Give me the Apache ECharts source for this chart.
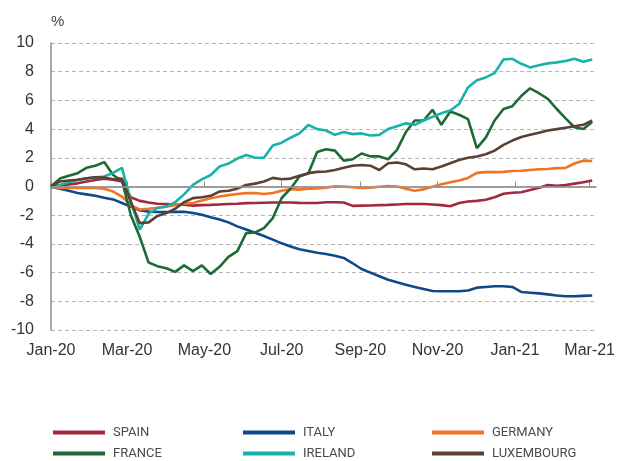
<!DOCTYPE html>
<html>
<head>
<meta charset="utf-8">
<script src="https://cdn.jsdelivr.net/npm/echarts@6/dist/echarts.min.js"></script>
<style>
  html, body { margin: 0; padding: 0; background: #fff; }
  #chart { width: 619px; height: 461px; }
</style>
</head>
<body>
<div id="chart"></div>
<script>
// weekly observations
var dates = [
  '2020-01-01','2020-01-08','2020-01-15','2020-01-22','2020-01-29','2020-02-05','2020-02-12','2020-02-19',
  '2020-02-26','2020-03-04','2020-03-11','2020-03-18','2020-03-25','2020-04-01','2020-04-08','2020-04-15',
  '2020-04-22','2020-04-29','2020-05-06','2020-05-13','2020-05-20','2020-05-27','2020-06-03','2020-06-10',
  '2020-06-17','2020-06-24','2020-07-01','2020-07-08','2020-07-15','2020-07-22','2020-07-29','2020-08-05',
  '2020-08-12','2020-08-19','2020-08-26','2020-09-02','2020-09-09','2020-09-16','2020-09-23','2020-09-30',
  '2020-10-07','2020-10-14','2020-10-21','2020-10-28','2020-11-04','2020-11-11','2020-11-18','2020-11-25',
  '2020-12-02','2020-12-09','2020-12-16','2020-12-23','2020-12-30','2021-01-06','2021-01-13','2021-01-20',
  '2021-01-27','2021-02-03','2021-02-10','2021-02-17','2021-02-24','2021-03-03'
];

var spain = [
  0, 0.08, 0.15, 0.22, 0.35, 0.45, 0.55, 0.47, 0.35, -0.75, -1.0, -1.12, -1.2, -1.22, -1.25, -1.27,
  -1.33, -1.3, -1.28, -1.25, -1.22, -1.2, -1.16, -1.15, -1.13, -1.12, -1.11, -1.12, -1.14, -1.15, -1.15, -1.1,
  -1.1, -1.12, -1.35, -1.33, -1.32, -1.3, -1.28, -1.25, -1.22, -1.22, -1.22, -1.25, -1.3, -1.38, -1.15, -1.05,
  -1.0, -0.92, -0.75, -0.5, -0.44, -0.4, -0.25, -0.08, 0.1, 0.05, 0.1, 0.2, 0.3, 0.42
];
var italy = [
  0, -0.15, -0.3, -0.45, -0.55, -0.65, -0.78, -0.9, -1.15, -1.4, -1.65, -1.75, -1.78, -1.78, -1.77, -1.76,
  -1.85, -1.97, -2.15, -2.3, -2.5, -2.78, -3.0, -3.22, -3.45, -3.7, -3.96, -4.18, -4.37, -4.5, -4.62, -4.7,
  -4.82, -4.98, -5.35, -5.75, -6.0, -6.25, -6.5, -6.68, -6.85, -7.0, -7.15, -7.28, -7.3, -7.3, -7.3, -7.25,
  -7.05, -7.0, -6.95, -6.95, -7.0, -7.35, -7.4, -7.45, -7.52, -7.6, -7.65, -7.65, -7.62, -7.6
];
var germany = [
  0, -0.1, -0.1, -0.1, -0.1, -0.1, -0.15, -0.35, -0.7, -1.3, -1.6, -1.55, -1.48, -1.4, -1.3, -1.2,
  -1.15, -0.98, -0.82, -0.7, -0.6, -0.52, -0.46, -0.45, -0.52, -0.45, -0.3, -0.18, -0.22, -0.15, -0.14, -0.08,
  0.02, 0.0, -0.05, -0.1, -0.08, -0.02, 0.03, 0.0, -0.15, -0.3, -0.2, -0.02, 0.15, 0.3, 0.42, 0.6,
  0.95, 1.0, 1.0, 1.02, 1.08, 1.1, 1.15, 1.2, 1.22, 1.28, 1.3, 1.6, 1.8, 1.78
];
var france = [
  0, 0.55, 0.75, 0.93, 1.3, 1.45, 1.7, 0.8, 0.4, -2.0, -3.5, -5.3, -5.55, -5.7, -5.95, -5.5,
  -5.9, -5.5, -6.1, -5.6, -4.9, -4.5, -3.25, -3.2, -2.9, -2.2, -0.8, -0.15, 0.7, 0.9, 2.4, 2.6,
  2.5, 1.8, 1.9, 2.3, 2.1, 2.1, 1.9, 2.55, 3.8, 4.6, 4.6, 5.35, 4.3, 5.22, 5.0, 4.7,
  2.67, 3.4, 4.6, 5.4, 5.6, 6.3, 6.84, 6.5, 6.1, 5.4, 4.75, 4.13, 4.0, 4.5
];
var ireland = [
  -0.1, 0.1, 0.3, 0.45, 0.55, 0.65, 0.7, 0.95, 1.3, -1.0, -3.0, -1.9, -1.5, -1.4, -1.1, -0.55,
  0.12, 0.5, 0.8, 1.39, 1.6, 1.95, 2.2, 2.0, 2.0, 2.85, 3.05, 3.4, 3.7, 4.29, 4.0, 3.9,
  3.6, 3.8, 3.65, 3.7, 3.55, 3.6, 4.0, 4.2, 4.4, 4.3, 4.6, 4.85, 5.1, 5.3, 5.75, 6.9,
  7.4, 7.6, 7.9, 8.85, 8.9, 8.55, 8.3, 8.45, 8.58, 8.65, 8.75, 8.9, 8.7, 8.85
];
var luxembourg = [
  0, 0.35, 0.42, 0.47, 0.58, 0.64, 0.62, 0.5, 0.55, -1.1, -2.55, -2.5, -2.05, -1.85, -1.55, -1.1,
  -0.81, -0.75, -0.65, -0.35, -0.3, -0.15, 0.1, 0.2, 0.35, 0.6, 0.5, 0.55, 0.75, 0.93, 1.02, 1.05,
  1.15, 1.3, 1.45, 1.5, 1.45, 1.15, 1.62, 1.67, 1.55, 1.2, 1.25, 1.2, 1.4, 1.62, 1.85, 2.0,
  2.09, 2.25, 2.5, 2.9, 3.2, 3.45, 3.6, 3.75, 3.9, 4.0, 4.1, 4.2, 4.3, 4.6
];

var tickDates = ['2020-01-01','2020-03-01','2020-05-01','2020-07-01','2020-09-01','2020-11-01','2021-01-01','2021-03-01'];
var monthNames = ['Jan','Feb','Mar','Apr','May','Jun','Jul','Aug','Sep','Oct','Nov','Dec'];

function toTime(s) {
  var p = s.split('-');
  return +new Date(+p[0], +p[1] - 1, +p[2]);
}
function pairs(vals) {
  return vals.map(function (v, i) { return [toTime(dates[i]), v]; });
}

var colors = {
  SPAIN: '#a2283f',
  ITALY: '#0d4a88',
  GERMANY: '#f27321',
  FRANCE: '#1b6b36',
  IRELAND: '#17b3a8',
  LUXEMBOURG: '#5b4134'
};

// one legend per entry so the 3 x 2 layout stays fixed
function makeLegend(name, left, top) {
  return {
    left: left,
    top: top,
    padding: 0,
    itemWidth: 52,
    itemHeight: 4,
    icon: 'rect',
    selectedMode: false,
    textStyle: {
      fontFamily: 'Roboto, sans-serif',
      fontSize: 13,
      color: '#4a4a4a',
      padding: [0, 0, 0, 3]
    },
    data: [name]
  };
}

function makeSeries(name, vals, extra) {
  var s = {
    name: name,
    type: 'line',
    symbol: 'none',
    data: pairs(vals),
    lineStyle: { width: 2.6, color: colors[name] },
    itemStyle: { color: colors[name] }
  };
  if (extra) Object.assign(s, extra);
  return s;
}

var chart = echarts.init(document.getElementById('chart'));
var tickTimes = tickDates.map(toTime);

var option = {
  animation: false,
  textStyle: { fontFamily: "'Liberation Sans', Arial, sans-serif" },
  grid: { left: 51, right: 23, top: 43, bottom: 131, containLabel: false },
  legend: [
    makeLegend('SPAIN', 53, 426),
    makeLegend('ITALY', 243, 426),
    makeLegend('GERMANY', 432, 426),
    makeLegend('FRANCE', 53, 447),
    makeLegend('IRELAND', 243, 447),
    makeLegend('LUXEMBOURG', 432, 447)
  ],
  xAxis: {
    type: 'value',
    min: toTime('2020-01-01'),
    max: toTime('2021-03-06'),
    axisLine: { lineStyle: { color: '#8c8c8c', width: 1.5 } },
    axisTick: { show: true, inside: true, length: 5, customValues: tickTimes, lineStyle: { color: '#8c8c8c' } },
    axisLabel: {
      customValues: tickTimes,
      margin: 13,
      fontSize: 16,
      color: '#333',
      formatter: function (v) {
        var d = new Date(v);
        return monthNames[d.getMonth()] + '-' + String(d.getFullYear()).slice(2);
      }
    },
    splitLine: { show: false }
  },
  yAxis: {
    type: 'value',
    min: -10,
    max: 10,
    interval: 2,
    name: '%',
    nameLocation: 'end',
    nameGap: 14,
    nameTextStyle: { align: 'left', fontSize: 15, color: '#444' },
    axisLine: { show: true, lineStyle: { color: '#8c8c8c', width: 1.5 } },
    axisTick: { show: false },
    axisLabel: { fontSize: 16, color: '#333', margin: 17 },
    splitLine: { lineStyle: { color: '#b5b5b5', type: [4, 3], width: 1 } }
  },
  series: [
    makeSeries('SPAIN', spain, {
      markLine: {
        silent: true,
        symbol: 'none',
        label: { show: false },
        lineStyle: { color: '#9a9a9a', type: 'solid', width: 1.5 },
        data: [{ yAxis: 0 }]
      }
    }),
    makeSeries('ITALY', italy),
    makeSeries('GERMANY', germany),
    makeSeries('FRANCE', france),
    makeSeries('IRELAND', ireland),
    makeSeries('LUXEMBOURG', luxembourg)
  ]
};

chart.setOption(option);
</script>
</body>
</html>
